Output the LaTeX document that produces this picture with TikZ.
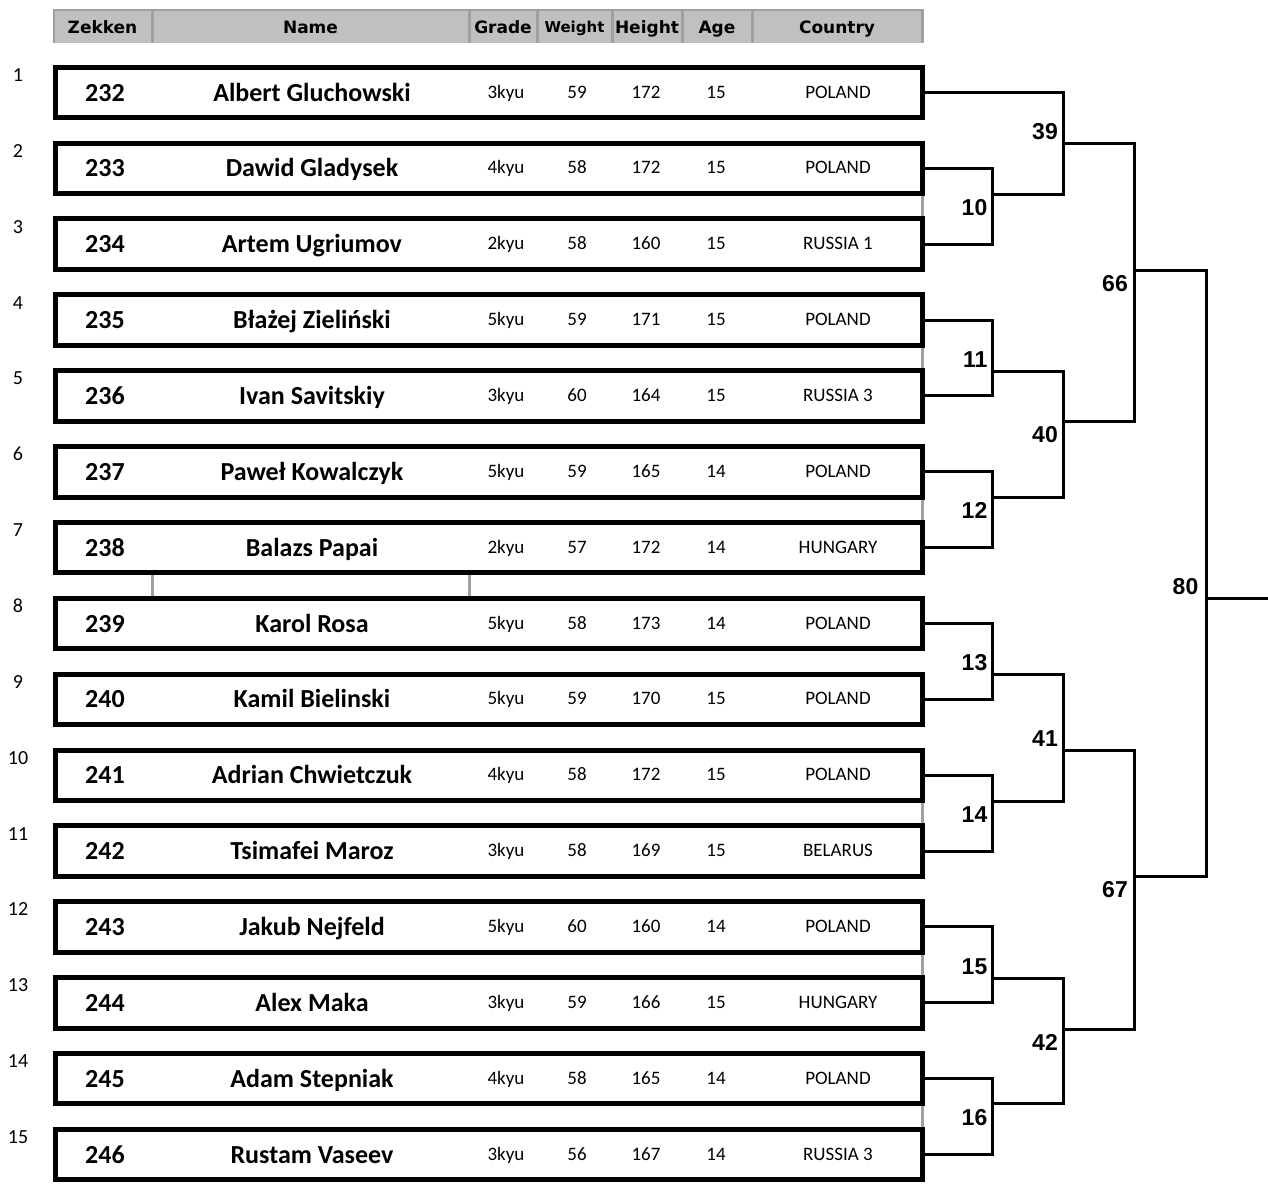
\documentclass[tikz,border=0pt]{standalone}
\usepackage{fontspec}
\setmainfont{Carlito}
\newfontfamily\hdrfont{DejaVu Sans}
\newfontfamily\lblfont{Liberation Sans}
\usetikzlibrary{calc}
\definecolor{hdrfill}{HTML}{C0C0C0}
\definecolor{hdrline}{HTML}{A0A0A0}
\begin{document}
\begin{tikzpicture}[x=1pt,y=-1pt,
  rowbox/.style={draw=black,line width=5pt,minimum width=867pt,minimum height=50.5pt,inner sep=0pt},
  bline/.style={draw=black,line width=3pt,line join=miter},
  gridline/.style={draw=hdrline,line width=3pt},
  hdr/.style={inner sep=0pt,anchor=base,font=\hdrfont\bfseries\fontsize{17}{17}\selectfont},
  zek/.style={inner sep=0pt,anchor=base,font=\bfseries\fontsize{26}{26}\selectfont},
  dat/.style={inner sep=0pt,anchor=base,font=\fontsize{19}{19}\selectfont},
  idx/.style={inner sep=0pt,anchor=base,font=\fontsize{20}{20}\selectfont},
  lbl/.style={inner sep=0pt,anchor=base east,font=\lblfont\bfseries\fontsize{23}{23}\selectfont},
]
\useasboundingbox (0,0) rectangle (1268,1184);

% header
\fill[hdrfill] (53,9) rectangle (923,43);
\draw[hdrline,line width=2pt] (53,10) -- (923,10);
\draw[hdrline,line width=2pt] (54,9) -- (54,43);
\coordinate (h1) at (152,9);
\coordinate (h2) at (469,9);
\coordinate (h3) at (537,9);
\coordinate (h4) at (612,9);
\coordinate (h5) at (682,9);
\coordinate (h6) at (752,9);
\coordinate (h7) at (922,9);
\foreach \h in {h1,h2,h3,h4,h5,h6,h7} \draw[gridline] (\h) -- ++(0,34);
\node[hdr] (hz) at (102.5,33) {Zekken};
\node[hdr] (hn) at (310.5,33) {Name};
\node[hdr] (hg) at (503,33) {Grade};
\node[hdr,font=\hdrfont\bfseries\fontsize{15}{15}\selectfont] (hw) at (574.5,32) {Weight};
\node[hdr] (hh) at (647,33) {Height};
\node[hdr] (ha) at (717,33) {Age};
\node[hdr] (hc) at (837,33) {Country};

% rows
\foreach \i/\z/\n/\g/\w/\h/\a/\c in {
  1/232/Albert Gluchowski/3kyu/59/172/15/POLAND,
  2/233/Dawid Gladysek/4kyu/58/172/15/POLAND,
  3/234/Artem Ugriumov/2kyu/58/160/15/RUSSIA 1,
  4/235/Błażej Zieliński/5kyu/59/171/15/POLAND,
  5/236/Ivan Savitskiy/3kyu/60/164/15/RUSSIA 3,
  6/237/Paweł Kowalczyk/5kyu/59/165/14/POLAND,
  7/238/Balazs Papai/2kyu/57/172/14/HUNGARY,
  8/239/Karol Rosa/5kyu/58/173/14/POLAND,
  9/240/Kamil Bielinski/5kyu/59/170/15/POLAND,
  10/241/Adrian Chwietczuk/4kyu/58/172/15/POLAND,
  11/242/Tsimafei Maroz/3kyu/58/169/15/BELARUS,
  12/243/Jakub Nejfeld/5kyu/60/160/14/POLAND,
  13/244/Alex Maka/3kyu/59/166/15/HUNGARY,
  14/245/Adam Stepniak/4kyu/58/165/14/POLAND,
  15/246/Rustam Vaseev/3kyu/56/167/14/RUSSIA 3}{
  \pgfmathsetmacro\y{92.5+(\i-1)*75.86}
  \node[rowbox] (r\i) at (489,\y) {};
  \node[idx] (i\i) at (18,\y-11) {\i};
  \node[zek] (z\i) at (105,\y+8.5) {\z};
  \node[zek] (n\i) at (312,\y+8.5) {\n};
  \node[dat] (g\i) at (506,\y+5.5) {\g};
  \node[dat] (w\i) at (577,\y+5.5) {\w};
  \node[dat] (t\i) at (646,\y+5.5) {\h};
  \node[dat] (a\i) at (716,\y+5.5) {\a};
  \node[dat] (c\i) at (838,\y+5.5) {\c};
}

% grey cell borders in gaps
\foreach \p/\q in {2/3,4/5,6/7,10/11,12/13,14/15}
  \draw[gridline] ([xshift=-2.5pt]r\p.south east) -- ([xshift=-2.5pt]r\q.north east);
\draw[gridline] (r7.south -| h1) -- (r8.north -| h1);
\draw[gridline] (r7.south -| h2) -- (r8.north -| h2);

% bracket match points
\coordinate (m10) at (992.5,194);
\coordinate (m11) at (992.5,371);
\coordinate (m12) at (992.5,497);
\coordinate (m13) at (992.5,674);
\coordinate (m14) at (992.5,801);
\coordinate (m15) at (992.5,978);
\coordinate (m16) at (992.5,1103.5);
\coordinate (m39) at (1063,143);
\coordinate (m40) at (1063,421);
\coordinate (m41) at (1063,750);
\coordinate (m42) at (1063,1029);
\coordinate (m66) at (1134,270);
\coordinate (m67) at (1134,876);
\coordinate (m80) at (1206,598);
\coordinate (fin) at (1268,598);

\draw[bline] (r2.east) -| (m10) |- (r3.east);
\draw[bline] (r4.east) -| (m11) |- (r5.east);
\draw[bline] (r6.east) -| (m12) |- (r7.east);
\draw[bline] (r8.east) -| (m13) |- (r9.east);
\draw[bline] (r10.east) -| (m14) |- (r11.east);
\draw[bline] (r12.east) -| (m15) |- (r13.east);
\draw[bline] (r14.east) -| (m16) |- (r15.east);
\draw[bline] (r1.east) -| (m39) |- (m10);
\draw[bline] (m11) -| (m40) |- (m12);
\draw[bline] (m13) -| (m41) |- (m14);
\draw[bline] (m15) -| (m42) |- (m16);
\draw[bline] (m39) -| (m66) |- (m40);
\draw[bline] (m41) -| (m67) |- (m42);
\draw[bline] (m66) -| (m80) |- (m67);
\draw[bline] (m80) -- (fin);

% bracket labels
\node[lbl] (l10) at ($(m10)+(-5,21.5)$) {10};
\node[lbl] (l11) at ($(m11)+(-5,-4)$) {11};
\node[lbl] (l12) at ($(m12)+(-5,21.5)$) {12};
\node[lbl] (l13) at ($(m13)+(-5,-4)$) {13};
\node[lbl] (l14) at ($(m14)+(-5,21.5)$) {14};
\node[lbl] (l15) at ($(m15)+(-5,-4)$) {15};
\node[lbl] (l16) at ($(m16)+(-5,21.5)$) {16};
\node[lbl] (l39) at ($(m39)+(-5,-4)$) {39};
\node[lbl] (l40) at ($(m40)+(-5,21.5)$) {40};
\node[lbl] (l41) at ($(m41)+(-5,-4)$) {41};
\node[lbl] (l42) at ($(m42)+(-5,21.5)$) {42};
\node[lbl] (l66) at ($(m66)+(-6,21.5)$) {66};
\node[lbl] (l67) at ($(m67)+(-6,21.5)$) {67};
\node[lbl] (l80) at ($(m80)+(-7.5,-4)$) {80};
\end{tikzpicture}
\end{document}
